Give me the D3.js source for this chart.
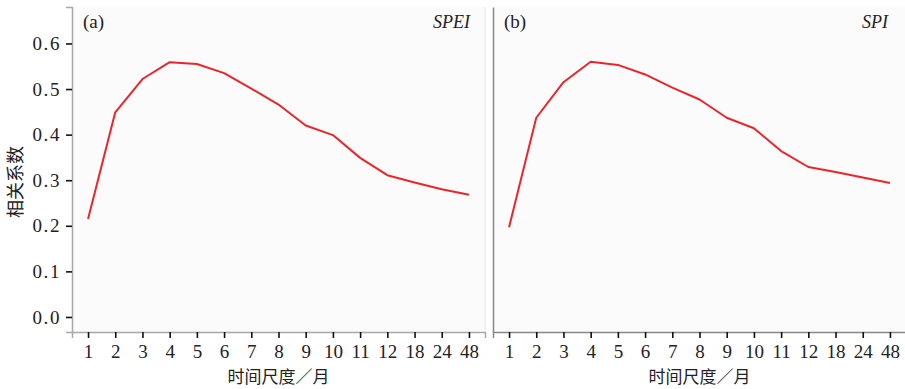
<!DOCTYPE html>
<html>
<head>
<meta charset="utf-8">
<script src="https://cdn.jsdelivr.net/npm/d3@7"></script>
<style>
  html, body { margin: 0; padding: 0; background: #ffffff; }
  svg { display: block; }
</style>
</head>
<body>
<svg id="chart" width="905" height="389"></svg>
<script>
// Time scales (months) on the categorical x axis
const scales = ["1", "2", "3", "4", "5", "6", "7", "8", "9", "10", "11", "12", "18", "24", "48"];
// Correlation coefficients per index
const speiValues = [0.215, 0.449, 0.522, 0.559, 0.555, 0.535, 0.501, 0.466, 0.420, 0.399, 0.349, 0.311, 0.295, 0.280, 0.268];
const spiValues  = [0.197, 0.437, 0.515, 0.560, 0.553, 0.532, 0.503, 0.477, 0.437, 0.414, 0.364, 0.329, 0.318, 0.306, 0.294];
const yTicks = [0.0, 0.1, 0.2, 0.3, 0.4, 0.5, 0.6];

const panels = [
  { tag: "(a)", name: "SPEI", values: speiValues, x0: 72, x1: 485, axisColor: "#a8a8a8" },
  { tag: "(b)", name: "SPI",  values: spiValues,  x0: 493, x1: 906, axisColor: "#888888" }
];

const serif = "'Liberation Serif', 'DejaVu Serif', serif";
const svg = d3.select("#chart");
const plotTop = 7, plotBottom = 332;

const y = d3.scaleLinear().domain([-0.033, 0.68]).range([plotBottom, plotTop]);

panels.forEach((p, i) => {
  const g = svg.append("g");
  const x = d3.scalePoint().domain(scales).range([p.x0, p.x1]).padding(0.59);

  // panel background
  g.append("rect")
    .attr("x", p.x0).attr("y", plotTop)
    .attr("width", p.x1 - p.x0).attr("height", plotBottom - plotTop)
    .attr("fill", "#fbfbfb");
  // faint right border
  g.append("line")
    .attr("x1", p.x1).attr("x2", p.x1).attr("y1", plotTop).attr("y2", plotBottom)
    .attr("stroke", "#e6e6e6").attr("stroke-width", 1);

  // x axis
  const xAxis = g.append("g")
    .attr("transform", `translate(0,${plotBottom})`)
    .call(d3.axisBottom(x).tickSize(6).tickPadding(6));
  xAxis.attr("font-family", serif);
  xAxis.select(".domain").attr("stroke", p.axisColor).attr("stroke-width", 1.5);
  xAxis.selectAll(".tick line").attr("stroke", "#111").attr("stroke-width", 1.6);
  xAxis.selectAll(".tick text").attr("font-family", serif).attr("fill", "#222")
    .attr("font-size", 19).attr("dy", "0.72em");

  // y axis: ticks and labels on the first panel only
  const yAxis = g.append("g")
    .attr("transform", `translate(${p.x0},0)`)
    .call(d3.axisLeft(y).tickValues(yTicks)
      .tickFormat(i === 0 ? d3.format(".1f") : () => "")
      .tickSize(i === 0 ? 6 : 0).tickPadding(5));
  yAxis.attr("font-family", serif);
  yAxis.select(".domain").attr("stroke", p.axisColor).attr("stroke-width", 1.5);
  yAxis.selectAll(".tick line").attr("stroke", "#111").attr("stroke-width", 1.6);
  yAxis.selectAll(".tick text").attr("font-family", serif).attr("fill", "#222")
    .attr("font-size", 19).attr("letter-spacing", 1.6);

  // series line
  const line = d3.line()
    .x((d, j) => x(scales[j]))
    .y(d => y(d));
  g.append("path")
    .datum(p.values)
    .attr("d", line)
    .attr("fill", "none")
    .attr("stroke", "#e8262b")
    .attr("stroke-width", 2)
    .attr("stroke-linejoin", "round");

  // panel tag and index name
  g.append("text")
    .attr("x", p.x0 + 11).attr("y", 28)
    .attr("font-family", serif)
    .attr("font-size", 19).attr("fill", "#222")
    .text(p.tag);
  g.append("text")
    .attr("x", p.x1 - (i === 0 ? 15 : 18)).attr("y", 28)
    .attr("text-anchor", "end")
    .attr("font-family", serif)
    .attr("font-style", "italic")
    .attr("font-size", 18).attr("fill", "#222")
    .text(p.name);

  // x axis title
  g.append("text")
    .attr("x", (p.x0 + p.x1) / 2).attr("y", 383)
    .attr("text-anchor", "middle")
    .attr("font-family", "Noto Sans CJK SC, sans-serif")
    .attr("font-size", 17).attr("fill", "#222")
    .text("时间尺度／月");
});

// y axis title
svg.append("text")
  .attr("transform", `translate(22,182) rotate(-90)`)
  .attr("text-anchor", "middle")
  .attr("font-family", "Noto Sans CJK SC, sans-serif")
  .attr("font-size", 18).attr("fill", "#222")
  .text("相关系数");
</script>
</body>
</html>
